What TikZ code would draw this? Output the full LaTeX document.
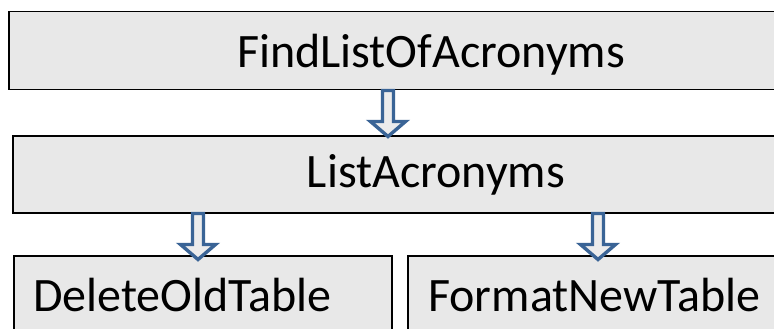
\documentclass[tikz,border=0pt]{standalone}
\usepackage{fontspec}
\setmainfont{Carlito}
\usetikzlibrary{calc}
\definecolor{boxfill}{HTML}{E8E8E8}
\definecolor{arrowblue}{HTML}{3A6496}
\definecolor{arrowfill}{HTML}{ECECEC}
\tikzset{
  procbox/.style={draw=black, line width=1.5pt, fill=boxfill, rectangle,
    inner sep=0pt, anchor=north west},
  steplabel/.style={inner sep=0pt, font=\fontsize{48}{56}\selectfont},
  blockarrow/.style={draw=arrowblue, line width=3.4pt, fill=arrowfill, line join=miter}
}
% down-pointing hollow block arrow hanging from a named coordinate
\newcommand\downblock[1]{%
  \draw[blockarrow] ($(#1)+(-5.5,0)$) -- ++(0,31) -- ++(-12,0)
    -- ($(#1)+(0,46)$) -- ($(#1)+(17.5,31)$) -- ++(-12,0) -- ++(0,-31) -- cycle;}
\begin{document}
\begin{tikzpicture}[x=1pt,y=-1pt]
  \useasboundingbox (0,0) rectangle (774,329);
  \clip (0,0) rectangle (774,329);
  \fill[white] (0,0) rectangle (774,329);
  % processing steps
  \node[procbox, minimum width=846pt, minimum height=78pt] (find) at (8,11) {};
  \node[procbox, minimum width=846pt, minimum height=77pt] (list) at (12,135) {};
  \node[procbox, minimum width=378pt, minimum height=110pt] (del) at (13,255) {};
  \node[procbox, minimum width=400pt, minimum height=110pt] (fmt) at (407,255) {};
  % step names
  \node[steplabel, anchor=base] (findtext) at ($(find.north west)+(423,56)$) {FindListOfAcronyms};
  \node[steplabel, anchor=base] (listtext) at ($(list.north west)+(424,52)$) {ListAcronyms};
  \node[steplabel, anchor=base west] (deltext) at ($(del.north west)+(20,56)$) {DeleteOldTable};
  \node[steplabel, anchor=base west] (fmttext) at ($(fmt.north west)+(21,56)$) {FormatNewTable};
  % connectors between steps
  \coordinate (a1) at ($(find.south west)+(380,0)$);
  \coordinate (a2) at ($(list.south west)+(186,0)$);
  \coordinate (a3) at ($(list.south west)+(586,0)$);
  \downblock{a1}
  \downblock{a2}
  \downblock{a3}
\end{tikzpicture}
\end{document}
